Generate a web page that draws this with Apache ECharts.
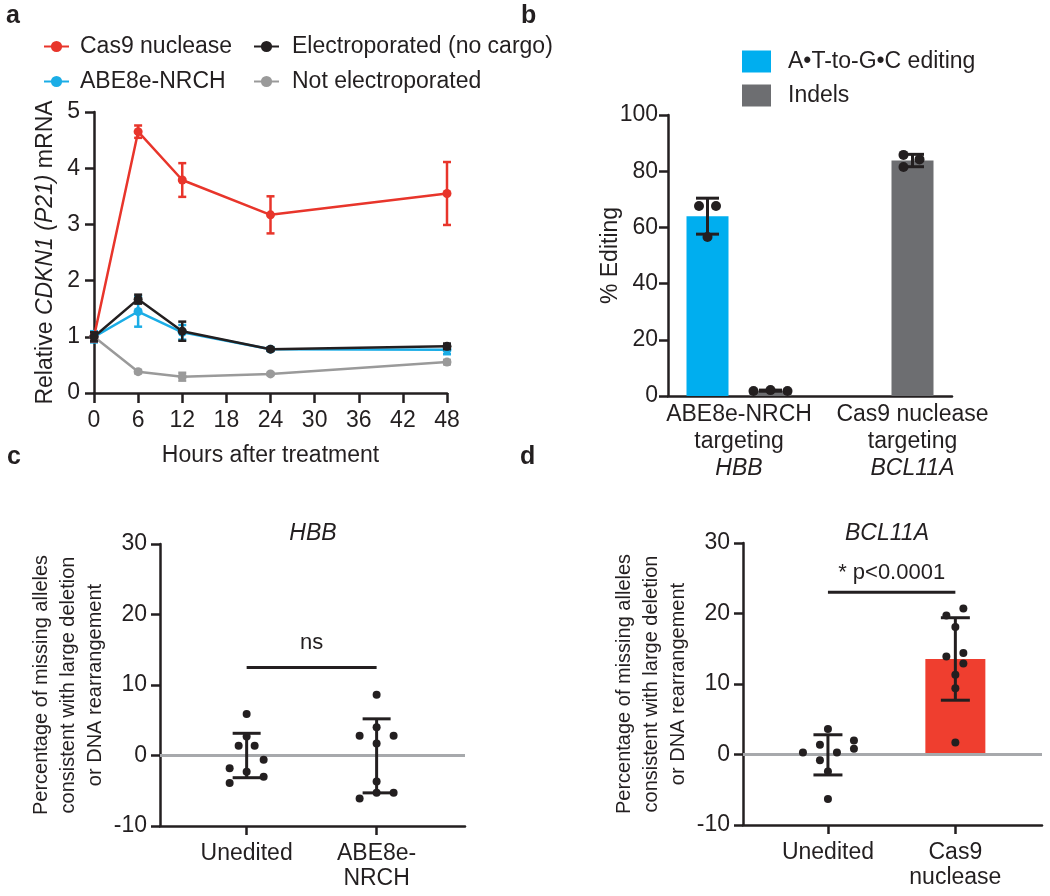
<!DOCTYPE html>
<html>
<head>
<meta charset="utf-8">
<script src="https://cdn.jsdelivr.net/npm/echarts@6/dist/echarts.min.js"></script>
<style>
html, body { margin: 0; padding: 0; background: #fff; }
#main { width: 1050px; height: 896px; }
</style>
</head>
<body>
<div id="main"></div>
<script>
// ---- panel a: CDKN1 (P21) mRNA over time ----
const hours = [0, 6, 12, 24, 48];
const cas9Mean = [1.0, 4.65, 3.79, 3.17, 3.55];
const cas9Sd = [0.08, 0.11, 0.3, 0.33, 0.56];
const abeMean = [1.0, 1.45, 1.08, 0.78, 0.77];
const abeSd = [0.1, 0.27, 0.13, 0.03, 0.08];
const electroMean = [1.0, 1.67, 1.1, 0.78, 0.83];
const electroSd = [0.08, 0.08, 0.17, 0.03, 0.05];
const notElecMean = [1.0, 0.38, 0.29, 0.34, 0.55];
const notElecSd = [0.05, 0.03, 0.07, 0.02, 0.04];

// ---- panel b: % editing ----
const editors = ['ABE8e-NRCH', 'Cas9 nuclease'];
const targets = ['HBB', 'BCL11A'];
const atgcMean = [64.0, null];
const atgcSd = [6.4, null];
const atgcReps = [[67.6, 67.6, 56.6], []];
const indelMean = [1.9, 83.8];
const indelSd = [0.2, 2.2];
const indelReps = [[1.8, 2.1, 1.8], [85.8, 84.2, 81.5]];

// ---- panel c: HBB missing alleles ----
const cLabels = ['Unedited', 'ABE8e-\nNRCH'];
const cUnedited = [5.9, 2.7, 1.4, 1.4, -0.6, -1.8, -2.3, -3.0, -3.9];
const cAbe = [8.6, 4.0, 2.8, 2.8, 1.7, -3.7, -5.3, -5.3, -6.1];
const cMean = [0.0, -0.05];
const cSd = [3.15, 5.25];
const cSig = { from: 1, to: 2, y: 12.5, text: 'ns' };

// ---- panel d: BCL11A missing alleles ----
const dLabels = ['Unedited', 'Cas9\nnuclease'];
const dUnedited = [3.6, 2.0, 1.4, 0.8, 0.3, 0.3, -0.8, -2.4, -6.3];
const dCas9 = [20.7, 19.7, 18.1, 14.4, 13.9, 12.9, 11.3, 9.4, 1.7];
const dMean = [-0.05, 13.55];
const dSd = [2.85, 5.85];
const dSig = { from: 1, to: 2, y: 23, text: '* p<0.0001' };

// horizontal spread of replicate dots (px), layout only
const atgcJitter = [[-8.5, 8.5, 0], []];
const indelJitter = [[-17, 0, 17], [-9, 7, -9]];
const cUneditedJitter = [0, 0, -8, 8, 17, -17, 0, 17, -17];
const cAbeJitter = [0, 0, -17, 17, 0, 0, 0, 17, -17];
const dUneditedJitter = [0, 26, -8, 26, -25, 9, -8, 0, 0];
const dCas9Jitter = [8, -9, 0, 8, -9, 8, 0, 0, 0];

const INK = '#231f20';
const RED = '#e8352b';
const BLUE = '#1badE6';
const GREY = '#9a9a9a';
const FONT = 'Liberation Sans, Arial, Helvetica, sans-serif';
const FS = 23;
const BAR_W = 42, BAR_GAP = 21;
const B_OFF = (BAR_W + BAR_GAP) / 2;

const myChart = echarts.init(document.getElementById('main'));

function errorBars(idx, pts, color, capW, lw, z, dx) {
    return {
        type: 'custom', xAxisIndex: idx, yAxisIndex: idx, z: z, silent: true,
        data: pts,
        renderItem: function (params, api) {
            const x = api.value(0), m = api.value(1), s = api.value(2);
            const hi = api.coord([x, m + s]);
            const lo = api.coord([x, m - s]);
            const cx = hi[0] + (dx || 0);
            const st = { stroke: color, lineWidth: lw };
            return {
                type: 'group', children: [
                    { type: 'line', shape: { x1: cx, y1: hi[1], x2: cx, y2: lo[1] }, style: st },
                    { type: 'line', shape: { x1: cx - capW / 2, y1: hi[1], x2: cx + capW / 2, y2: hi[1] }, style: st },
                    { type: 'line', shape: { x1: cx - capW / 2, y1: lo[1], x2: cx + capW / 2, y2: lo[1] }, style: st }
                ]
            };
        }
    };
}

function lineSeries(name, mean, sd, color, z) {
    return [{
        type: 'line', name: name, xAxisIndex: 0, yAxisIndex: 0, z: z,
        data: hours.map((h, i) => [h, mean[i]]),
        symbol: 'circle', symbolSize: 9,
        lineStyle: { color: color, width: 2.5 },
        itemStyle: { color: color },
        emphasis: { disabled: true }
    }, errorBars(0, hours.map((h, i) => [h, mean[i], sd[i]]), color, 8, 2.5, z, 0)];
}

function dots(idx, x, vals, jit, z) {
    return {
        type: 'scatter', xAxisIndex: idx, yAxisIndex: idx, z: z, silent: true,
        symbol: 'circle', symbolSize: 8,
        itemStyle: { color: INK, opacity: 1 },
        data: vals.map((v, i) => ({ value: [x, v], symbolOffset: [jit[i], 0] }))
    };
}

function bracket(idx, sig, gap) {
    return {
        type: 'custom', xAxisIndex: idx, yAxisIndex: idx, z: 10, silent: true,
        data: [[sig.from, sig.y, sig.to]],
        renderItem: function (params, api) {
            const a = api.coord([api.value(0), api.value(1)]);
            const b = api.coord([api.value(2), api.value(1)]);
            return {
                type: 'group', children: [
                    { type: 'line', shape: { x1: a[0], y1: a[1], x2: b[0], y2: b[1] }, style: { stroke: INK, lineWidth: 3 } },
                    { type: 'text', x: (a[0] + b[0]) / 2, y: a[1] - gap,
                      style: { text: sig.text, fill: INK, fontSize: 22, fontFamily: FONT, align: 'center', verticalAlign: 'bottom' } }
                ]
            };
        }
    };
}

const txt = { color: INK, fontSize: FS, fontFamily: FONT };
const axLine = { show: true, onZero: false, lineStyle: { color: INK, width: 2.5 } };
const axTick = { show: true, length: 9, lineStyle: { color: INK, width: 2.5 } };

function yAx(idx, min, max, step, margin, name, gap, extra) {
    return Object.assign({
        type: 'value', gridIndex: idx, min: min, max: max, interval: step,
        axisLine: axLine, axisTick: axTick, splitLine: { show: false },
        axisLabel: Object.assign({ margin: margin }, txt),
        name: name, nameLocation: 'middle', nameGap: gap, nameRotate: 90,
        nameMoveOverlap: false,
        nameTextStyle: Object.assign({}, txt)
    }, extra || {});
}

function catValAx(idx, labels) {
    return {
        type: 'value', gridIndex: idx, min: 1 / 3, max: 2.68,
        axisLine: axLine,
        axisTick: Object.assign({}, axTick, { customValues: [1, 2] }),
        splitLine: { show: false },
        axisLabel: Object.assign({ margin: 15, lineHeight: 25, customValues: [1, 2],
            formatter: v => labels[Math.round(v) - 1] }, txt)
    };
}

const allelesName = 'Percentage of missing alleles\nconsistent with large deletion\nor DNA rearrangement';
const letter = { fontSize: 25, fontWeight: 'bold', color: INK, fontFamily: FONT };
const bLab = { color: INK, fontSize: FS, fontFamily: FONT, lineHeight: 27 };
// a group with no A•T-to-G•C bar gets its label centred under the indel bar
const bShift = { padding: [0, 0, 0, 2 * B_OFF] };

const option = {
    animation: false,
    backgroundColor: '#fff',
    textStyle: { fontFamily: FONT, color: INK },
    title: [
        { text: 'a', left: 6, top: 4, padding: 0, textStyle: letter },
        { text: 'b', left: 521, top: 4, padding: 0, textStyle: letter },
        { text: 'c', left: 7, top: 445, padding: 0, textStyle: letter },
        { text: 'd', left: 520, top: 445, padding: 0, textStyle: letter },
        { text: 'HBB', left: 313, top: 522, textAlign: 'center', padding: 0,
          textStyle: { fontSize: FS, fontStyle: 'italic', fontWeight: 'normal', color: INK, fontFamily: FONT } },
        { text: 'BCL11A', left: 887, top: 522, textAlign: 'center', padding: 0,
          textStyle: { fontSize: FS, fontStyle: 'italic', fontWeight: 'normal', color: INK, fontFamily: FONT } }
    ],
    legend: [
        { data: ['Cas9 nuclease', 'ABE8e-NRCH'], orient: 'vertical', left: 43, top: 35, padding: 0,
          itemWidth: 25, itemHeight: 14, itemGap: 12, selectedMode: false,
          textStyle: Object.assign({ padding: [0, 0, 0, 6] }, txt) },
        { data: ['Electroporated (no cargo)', 'Not electroporated'], orient: 'vertical', left: 253, top: 35, padding: 0,
          itemWidth: 25, itemHeight: 14, itemGap: 12, selectedMode: false,
          textStyle: Object.assign({ padding: [0, 0, 0, 8] }, txt) },
        { data: ['A•T-to-G•C editing', 'Indels'], orient: 'vertical', left: 742, top: 50, padding: 0,
          icon: 'rect', itemWidth: 29, itemHeight: 22, itemGap: 11, selectedMode: false,
          textStyle: Object.assign({ padding: [0, 0, 0, 12] }, txt) }
    ],
    grid: [
        { left: 94, top: 112, width: 353, height: 281, outerBoundsMode: 'none' },
        { left: 668, top: 115, width: 284, height: 281, outerBoundsMode: 'none' },
        { left: 160, top: 544, width: 305, height: 282, outerBoundsMode: 'none' },
        { left: 743, top: 543, width: 299, height: 282, outerBoundsMode: 'none' }
    ],
    xAxis: [
        { type: 'value', gridIndex: 0, min: 0, max: 48, interval: 6,
          axisLine: axLine, axisTick: Object.assign({}, axTick, { length: 10 }), splitLine: { show: false },
          axisLabel: Object.assign({ margin: 16 }, txt),
          name: 'Hours after treatment', nameLocation: 'middle', nameGap: 51,
          nameTextStyle: Object.assign({}, txt) },
        { type: 'category', gridIndex: 1,
          data: editors.map((e, i) => e + '\ntargeting\n' + targets[i]),
          axisLine: axLine, axisTick: { show: false }, splitLine: { show: false },
          axisLabel: Object.assign({}, bLab, { margin: 5, interval: 0,
              formatter: (v, i) => {
                  const p = v.split('\n');
                  const s = atgcMean[i] === null ? 's' : '';
                  return '{n' + s + '|' + p[0] + '}\n{n' + s + '|' + p[1] + '}\n{i' + s + '|' + p[2] + '}';
              },
              rich: {
                  n: Object.assign({}, bLab),
                  i: Object.assign({ fontStyle: 'italic' }, bLab),
                  ns: Object.assign({}, bLab, bShift),
                  is: Object.assign({ fontStyle: 'italic' }, bLab, bShift)
              } }) },
        catValAx(2, cLabels),
        catValAx(3, dLabels)
    ],
    yAxis: [
        yAx(0, 0, 5, 1, 14, 'Relative {i|CDKN1 (P21)} mRNA', 37, {
            nameTextStyle: Object.assign({ rich: { i: Object.assign({ fontStyle: 'italic' }, txt) } }, txt)
        }),
        yAx(1, 0, 100, 20, 10, '% Editing', 46),
        yAx(2, -10, 30, 10, 13, allelesName, 51, {
            nameTextStyle: { color: INK, fontFamily: FONT, fontSize: 20, lineHeight: 27, align: 'center' }
        }),
        yAx(3, -10, 30, 10, 13, allelesName, 51, {
            nameTextStyle: { color: INK, fontFamily: FONT, fontSize: 20, lineHeight: 27, align: 'center' }
        })
    ],
    series: [
        // panel a
        ...lineSeries('Not electroporated', notElecMean, notElecSd, GREY, 2),
        ...lineSeries('ABE8e-NRCH', abeMean, abeSd, BLUE, 3),
        ...lineSeries('Cas9 nuclease', cas9Mean, cas9Sd, RED, 4),
        ...lineSeries('Electroporated (no cargo)', electroMean, electroSd, INK, 5),

        // panel b
        { type: 'bar', name: 'A•T-to-G•C editing', xAxisIndex: 1, yAxisIndex: 1,
          data: atgcMean.map(v => v === null ? '-' : v),
          barWidth: BAR_W, barGap: (BAR_GAP / BAR_W * 100) + '%',
          itemStyle: { color: '#00aeef' }, emphasis: { disabled: true } },
        { type: 'bar', name: 'Indels', xAxisIndex: 1, yAxisIndex: 1,
          data: indelMean, barWidth: BAR_W, barGap: (BAR_GAP / BAR_W * 100) + '%',
          itemStyle: { color: '#6d6e71' }, emphasis: { disabled: true } },
        errorBars(1, atgcMean.map((m, i) => [i, m, atgcSd[i]]).filter(p => p[1] !== null), INK, 23, 3, 10, -B_OFF),
        errorBars(1, indelMean.map((m, i) => [i, m, indelSd[i]]), INK, 23, 3, 10, B_OFF),
        { type: 'scatter', xAxisIndex: 1, yAxisIndex: 1, z: 11, silent: true,
          symbol: 'circle', symbolSize: 10, itemStyle: { color: INK, opacity: 1 },
          data: atgcReps.flatMap((reps, g) => reps.map((v, k) => ({ value: [g, v], symbolOffset: [-B_OFF + atgcJitter[g][k], 0] }))) },
        { type: 'scatter', xAxisIndex: 1, yAxisIndex: 1, z: 11, silent: true,
          symbol: 'circle', symbolSize: 10, itemStyle: { color: INK, opacity: 1 },
          data: indelReps.flatMap((reps, g) => reps.map((v, k) => ({ value: [g, v], symbolOffset: [B_OFF + indelJitter[g][k], 0] }))) },

        // panel c
        Object.assign(dots(2, 1, cUnedited, cUneditedJitter, 11), {
            markLine: { silent: true, symbol: 'none', label: { show: false }, animation: false,
                lineStyle: { color: '#a7a9ac', width: 3, type: 'solid' }, data: [{ yAxis: 0 }] }
        }),
        dots(2, 2, cAbe, cAbeJitter, 11),
        errorBars(2, cMean.map((m, i) => [i + 1, m, cSd[i]]), INK, 28, 3, 10, 0),
        bracket(2, cSig, 13),

        // panel d
        { type: 'custom', xAxisIndex: 3, yAxisIndex: 3, z: 2, silent: true,
          data: [[2, dMean[1]]],
          renderItem: function (params, api) {
              const top = api.coord([api.value(0), api.value(1)]);
              const base = api.coord([api.value(0), 0]);
              return { type: 'rect', shape: { x: top[0] - 30, y: top[1], width: 60, height: base[1] - top[1] },
                       style: { fill: '#ef3e2f' } };
          },
          markLine: { silent: true, symbol: 'none', label: { show: false }, animation: false,
              lineStyle: { color: '#a7a9ac', width: 3, type: 'solid' }, data: [{ yAxis: 0 }] } },
        dots(3, 1, dUnedited, dUneditedJitter, 11),
        dots(3, 2, dCas9, dCas9Jitter, 11),
        errorBars(3, dMean.map((m, i) => [i + 1, m, dSd[i]]), INK, 29, 3, 10, 0),
        bracket(3, dSig, 8)
    ]
};

myChart.setOption(option);
window.addEventListener('resize', () => myChart.resize());
</script>
</body>
</html>
